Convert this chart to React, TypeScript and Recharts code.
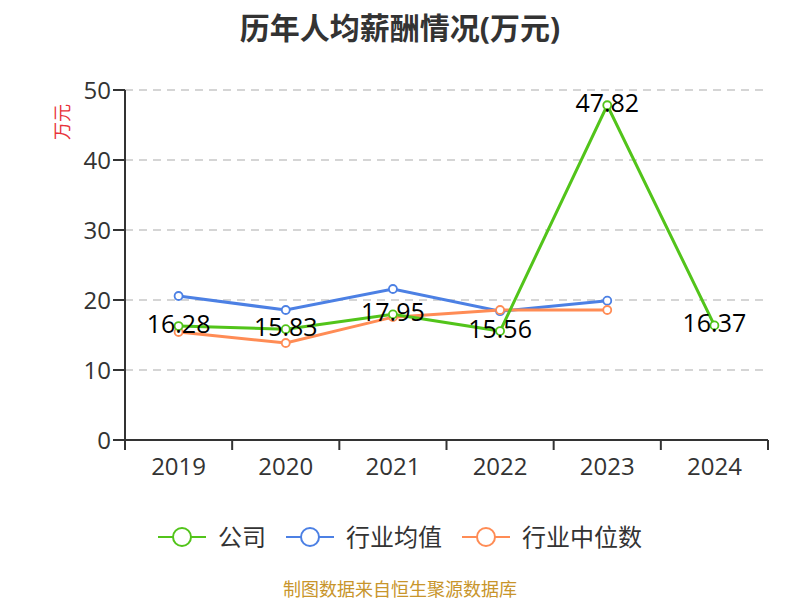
import { LineChart, Line, XAxis, YAxis, CartesianGrid } from "recharts";

const years = ["2019", "2020", "2021", "2022", "2023", "2024"];
const company = [16.28, 15.83, 17.95, 15.56, 47.82, 16.37];
const industryAvg = [20.57, 18.57, 21.57, 18.4, 19.9, null];
const industryMedian = [15.43, 13.86, 17.55, 18.57, 18.57, null];
const yTicks = [0, 10, 20, 30, 40, 50];

const data = years.map((year, i) => ({
  year,
  company: company[i],
  avg: industryAvg[i],
  median: industryMedian[i],
}));

const FONT = "'Open Sans', 'Noto Sans CJK SC', sans-serif";
const PLOT_LEFT = 125;
const PLOT_RIGHT = 768;
const PLOT_TOP = 90;
const PLOT_BOTTOM = 440;
const BAND = (PLOT_RIGHT - PLOT_LEFT) / years.length;

const series = [
  { key: "company", name: "公司", color: "#52c41a" },
  { key: "avg", name: "行业均值", color: "#4c80e4" },
  { key: "median", name: "行业中位数", color: "#ff8c55" },
];

function XTick(props: any) {
  const { x, y, payload, index } = props;
  const last = index === years.length - 1;
  return (
    <g>
      <line x1={x - BAND / 2} y1={y - 8} x2={x - BAND / 2} y2={y + 2} stroke="#333" strokeWidth={2} />
      {last && (
        <line x1={x + BAND / 2} y1={y - 8} x2={x + BAND / 2} y2={y + 2} stroke="#333" strokeWidth={2} />
      )}
      <text x={x} y={y + 17} textAnchor="middle" dominantBaseline="central" fontSize={24} fill="#333" fontFamily={FONT}>
        {payload.value}
      </text>
    </g>
  );
}

function ValueLabel(props: any) {
  const { x, y, value } = props;
  return (
    <text x={x} y={y - 3} textAnchor="middle" dominantBaseline="central" fontSize={25} fill="#000" fontFamily={FONT}>
      {value}
    </text>
  );
}

function LegendBlock() {
  return (
    <div
      style={{
        position: "absolute",
        top: 523,
        left: 0,
        width: 800,
        display: "flex",
        justifyContent: "center",
        alignItems: "center",
        fontFamily: FONT,
      }}
    >
      {series.map((s, i) => (
        <div key={s.key} style={{ display: "flex", alignItems: "center", marginLeft: i === 0 ? 0 : 20 }}>
          <svg width={48} height={28}>
            <line x1={0} y1={14} x2={48} y2={14} stroke={s.color} strokeWidth={2} />
            <circle cx={24} cy={14} r={9} fill="#fff" stroke={s.color} strokeWidth={2} />
          </svg>
          <span style={{ fontSize: 24, color: "#333", marginLeft: 12, lineHeight: "28px" }}>{s.name}</span>
        </div>
      ))}
    </div>
  );
}

export default function App() {
  return (
    <div style={{ position: "absolute", left: 0, top: 0, width: 800, height: 600, background: "#fff", overflow: "hidden" }}>
      <div
        style={{
          position: "absolute",
          top: 4,
          width: 800,
          textAlign: "center",
          fontSize: 30,
          fontWeight: "bold",
          color: "#333",
          fontFamily: FONT,
        }}
      >
        历年人均薪酬情况(万元)
      </div>
      <div
        style={{
          position: "absolute",
          left: 42,
          top: 110,
          width: 40,
          height: 24,
          transform: "rotate(-90deg)",
          fontSize: 18,
          color: "#e8323a",
          fontFamily: FONT,
          whiteSpace: "nowrap",
          lineHeight: "24px",
          textAlign: "center",
        }}
      >
        万元
      </div>
      <LineChart
        width={800}
        height={600}
        data={data}
        margin={{ top: PLOT_TOP, right: 800 - PLOT_RIGHT, bottom: 600 - PLOT_BOTTOM - 30, left: PLOT_LEFT - 60 }}
      >
        <CartesianGrid horizontal vertical={false} stroke="#c8c8c8" strokeDasharray="8 6" strokeWidth={1.3} />
        <XAxis
          dataKey="year"
          height={30}
          padding={{ left: BAND / 2, right: BAND / 2 }}
          axisLine={{ stroke: "#333", strokeWidth: 2 }}
          tickLine={false}
          tick={<XTick />}
          interval={0}
        />
        <YAxis
          width={60}
          domain={[0, 50]}
          ticks={yTicks}
          axisLine={{ stroke: "#333", strokeWidth: 2 }}
          tickLine={{ stroke: "#333", strokeWidth: 2 }}
          tickSize={12}
          tick={{ fontSize: 24, fill: "#333", fontFamily: FONT }}
        />
        <Line
          dataKey="avg"
          name="行业均值"
          stroke="#4c80e4"
          strokeWidth={3}
          dot={{ r: 4, fill: "#fff", stroke: "#4c80e4", strokeWidth: 1.8 }}
          activeDot={false}
          isAnimationActive={false}
        />
        <Line
          dataKey="median"
          name="行业中位数"
          stroke="#ff8c55"
          strokeWidth={3}
          dot={{ r: 4, fill: "#fff", stroke: "#ff8c55", strokeWidth: 1.8 }}
          activeDot={false}
          isAnimationActive={false}
        />
        <Line
          dataKey="company"
          name="公司"
          stroke="#52c41a"
          strokeWidth={3}
          dot={{ r: 4, fill: "#fff", stroke: "#52c41a", strokeWidth: 1.8 }}
          activeDot={false}
          label={<ValueLabel />}
          isAnimationActive={false}
        />
      </LineChart>
      <LegendBlock />
      <div
        style={{
          position: "absolute",
          top: 578,
          width: 800,
          textAlign: "center",
          fontSize: 18,
          lineHeight: "22px",
          color: "#c8952b",
          fontFamily: FONT,
        }}
      >
        制图数据来自恒生聚源数据库
      </div>
    </div>
  );
}
